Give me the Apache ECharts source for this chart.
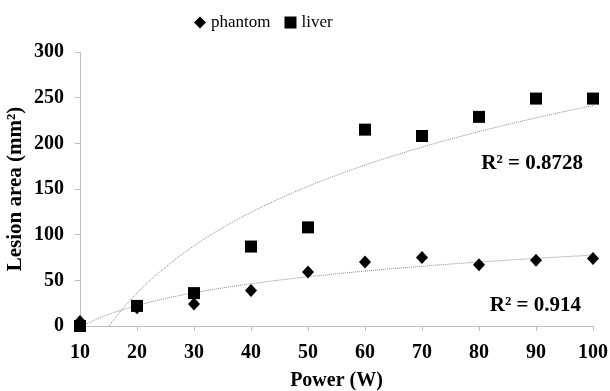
<!DOCTYPE html>
<html>
<head>
<meta charset="utf-8">
<script src="https://cdn.jsdelivr.net/npm/echarts@6/dist/echarts.min.js"></script>
<style>
  html, body { margin: 0; padding: 0; background: #fff; }
  #chart { width: 610px; height: 391px; }
</style>
</head>
<body>
<div id="chart"></div>
<script>
const power = [10, 20, 30, 40, 50, 60, 70, 80, 90, 100];
const phantom = [5, 20, 24, 39, 59, 70, 75, 67, 72, 74];
const liver = [0, 22, 36, 87, 108, 215, 208, 229, 249, 249];
const r2Labels = ['R² = 0.8728', 'R² = 0.914'];

const font = 'Liberation Serif';

// least-squares fit y = a*ln(x) + b, like the spreadsheet trendline
const logFit = (xs, ys) => {
  const lx = xs.map((x) => Math.log(x));
  const mx = lx.reduce((s, v) => s + v, 0) / lx.length;
  const my = ys.reduce((s, v) => s + v, 0) / ys.length;
  let sxy = 0, sxx = 0;
  lx.forEach((v, i) => {
    sxy += (v - mx) * (ys[i] - my);
    sxx += (v - mx) * (v - mx);
  });
  const a = sxy / sxx;
  const b = my - a * mx;
  const pts = [];
  for (let x = power[0]; x <= power[power.length - 1]; x += 0.5) {
    pts.push([x, a * Math.log(x) + b]);
  }
  return pts;
};

const pairs = (ys) => power.map((x, i) => [x, ys[i]]);

const trendStyle = { color: '#8a8a8a', width: 1, type: 'dotted' };
const boldText = { fontFamily: font, fontSize: 20, fontWeight: 'bold', color: '#000' };

const chart = echarts.init(document.getElementById('chart'));
chart.setOption({
  animation: false,
  textStyle: { fontFamily: font },
  legend: {
    data: [
      { name: 'phantom', icon: 'diamond' },
      { name: 'liver', icon: 'rect' }
    ],
    top: 9,
    left: 189,
    itemWidth: 12,
    itemHeight: 12,
    itemGap: 14,
    textStyle: { fontFamily: font, fontSize: 17, color: '#000' }
  },
  grid: { left: 80, right: 17, top: 52, bottom: 65, containLabel: false, outerBoundsMode: 'none' },
  xAxis: {
    type: 'value',
    min: 10,
    max: 100,
    interval: 10,
    name: 'Power (W)',
    nameLocation: 'middle',
    nameGap: 45,
    nameMoveOverlap: false,
    nameTextStyle: boldText,
    axisLine: { lineStyle: { color: '#bfbfbf' } },
    axisTick: { show: true, length: 5, lineStyle: { color: '#bfbfbf' } },
    axisLabel: Object.assign({ margin: 17 }, boldText),
    splitLine: { show: false }
  },
  yAxis: {
    type: 'value',
    min: 0,
    max: 300,
    interval: 50,
    name: 'Lesion area (mm²)',
    nameLocation: 'middle',
    nameGap: 54,
    nameMoveOverlap: false,
    nameTextStyle: Object.assign({}, boldText, { fontSize: 21 }),
    axisLine: { show: true, lineStyle: { color: '#bfbfbf' } },
    axisTick: { show: true, length: 5, lineStyle: { color: '#bfbfbf' } },
    axisLabel: Object.assign({ margin: 16 }, boldText),
    splitLine: { show: false }
  },
  series: [
    {
      name: 'phantom trend',
      type: 'line',
      data: logFit(power, phantom),
      showSymbol: false,
      clip: true,
      lineStyle: trendStyle,
      silent: true,
      z: 1
    },
    {
      name: 'liver trend',
      type: 'line',
      data: logFit(power, liver),
      showSymbol: false,
      clip: true,
      lineStyle: trendStyle,
      silent: true,
      z: 1
    },
    {
      name: 'phantom',
      type: 'scatter',
      symbol: 'diamond',
      symbolSize: [12, 13],
      data: pairs(phantom),
      itemStyle: { color: '#000', opacity: 1 },
      z: 3
    },
    {
      name: 'liver',
      type: 'scatter',
      symbol: 'rect',
      symbolSize: 12,
      data: pairs(liver),
      itemStyle: { color: '#000', opacity: 1 },
      z: 4
    }
  ],
  graphic: [
    {
      type: 'text',
      right: 27,
      top: 153,
      style: { text: r2Labels[0], font: 'bold 21px "Liberation Serif"', fill: '#000' }
    },
    {
      type: 'text',
      right: 29,
      top: 295,
      style: { text: r2Labels[1], font: 'bold 21px "Liberation Serif"', fill: '#000' }
    }
  ]
});
</script>
</body>
</html>
